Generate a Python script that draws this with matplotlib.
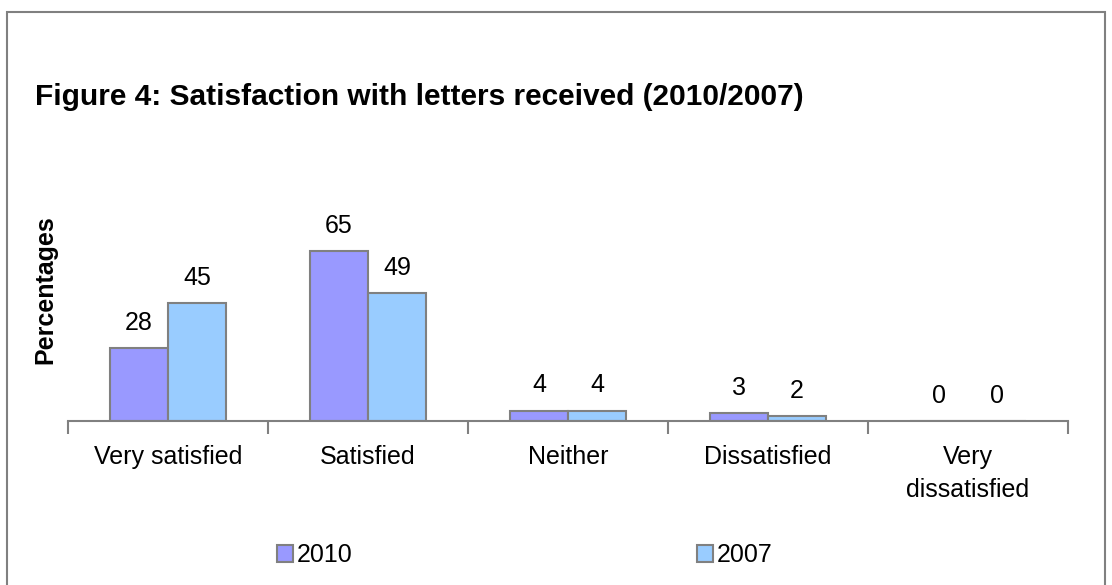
import matplotlib.pyplot as plt
import numpy as np
from matplotlib.patches import Rectangle

categorias = ["Very satisfied", "Satisfied", "Neither", "Dissatisfied", "Very\ndissatisfied"]
valores_2010 = [28, 65, 4, 3, 0]
valores_2007 = [45, 49, 4, 2, 0]
series = ["2010", "2007"]

plt.rcParams['font.family'] = ['Liberation Sans', 'DejaVu Sans']

fig = plt.figure(figsize=(11.12, 5.85), dpi=100)
W, H = 1112, 585

# moldura cinza
fig.patches.append(Rectangle((7 / W, -0.1), (1105 - 7) / W, 1 + 0.1 - 12 / H,
                             transform=fig.transFigure, fill=False,
                             edgecolor="#808080", linewidth=1.5))

ax = fig.add_axes([68 / W, 1 - 421 / H, 1000 / W, (421 - 212) / H])
x = np.arange(len(categorias))
largura = 0.29
borda = "#808080"

b1 = ax.bar(x - largura / 2, valores_2010, largura, color="#9999FF",
            edgecolor=borda, linewidth=1.5, label=series[0])
b2 = ax.bar(x + largura / 2, valores_2007, largura, color="#99CCFF",
            edgecolor=borda, linewidth=1.5, label=series[1])

for barras in (b1, b2):
    for b in barras:
        ax.text(b.get_x() + b.get_width() / 2, b.get_height() + 5.0,
                str(int(b.get_height())), ha="center", va="bottom", fontsize=18)

ax.set_xlim(-0.5, len(categorias) - 0.5)
ax.set_ylim(0, 80)
ax.set_xticks(np.arange(-0.5, len(categorias)), minor=False)
ax.set_xticklabels([])
ax.set_xticks(x, minor=True)
ax.set_xticklabels(categorias, minor=True, fontsize=18, va="top", linespacing=1.5)
ax.tick_params(axis="x", which="major", length=9, width=1.5, color=borda)
ax.tick_params(axis="x", which="minor", length=0, pad=17)
ax.set_yticks([])
for lado in ("top", "right", "left"):
    ax.spines[lado].set_visible(False)
ax.spines["bottom"].set_color(borda)
ax.spines["bottom"].set_linewidth(1.5)

fig.text(45 / W, 1 - 290 / H, "Percentages", rotation=90, ha="center", va="center",
         fontsize=18, fontweight="bold")
fig.text(35 / W, 1 - 97 / H, "Figure 4: Satisfaction with letters received (2010/2007)",
         ha="left", va="center", fontsize=21.5, fontweight="bold")

fig.legend(handles=[b1, b2], labels=series, loc="center left",
           bbox_to_anchor=(277 / W, 1 - 555 / H), ncol=2, frameon=False,
           fontsize=18, handlelength=0.65, handleheight=0.65, handletextpad=0.12,
           columnspacing=13.8, borderpad=0, borderaxespad=0)

fig.savefig("out.png", dpi=100)
